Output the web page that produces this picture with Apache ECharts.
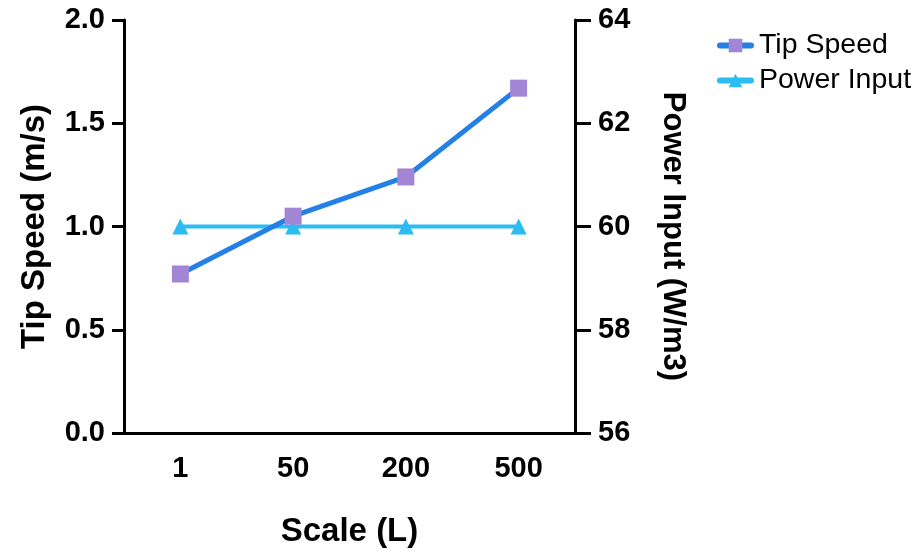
<!DOCTYPE html>
<html><head><meta charset="utf-8">
<script src="https://cdn.jsdelivr.net/npm/echarts@6/dist/echarts.min.js"></script>
<style>html,body{margin:0;padding:0;background:#fff}#c{width:920px;height:553px}</style>
</head><body><div id="c"></div>
<script>
const categories = ['1', '50', '200', '500'];
const tipSpeed = [0.77, 1.05, 1.24, 1.67];
const powerInput = [60, 60, 60, 60];

const FONT = 'Liberation Sans, Arial, sans-serif';
const chart = echarts.init(document.getElementById('c'));
chart.setOption({
  animation: false,
  grid: { left: 124, right: 345, top: 20, bottom: 116 },
  legend: {
    left: 712, top: 26, orient: 'vertical', itemGap: 6, itemWidth: 31, itemHeight: 17,
    lineStyle: { width: 6, cap: 'round' },
    textStyle: { fontFamily: FONT, fontSize: 28.5, color: '#000', padding: [0, 0, 0, 3] },
    data: ['Tip Speed', 'Power Input']
  },
  xAxis: {
    type: 'category', data: categories, boundaryGap: true,
    name: 'Scale (L)', nameLocation: 'middle', nameGap: 82,
    nameTextStyle: { fontFamily: FONT, fontSize: 33, fontWeight: 'bold', color: '#000' },
    axisLine: { lineStyle: { color: '#000', width: 3 } },
    axisTick: { alignWithLabel: true, length: 11, lineStyle: { color: '#000', width: 3 } },
    axisLabel: { margin: 21, fontFamily: FONT, fontSize: 29, fontWeight: 'bold', color: '#000' }
  },
  yAxis: [{
    type: 'value', min: 0, max: 2, interval: 0.5, position: 'left',
    name: 'Tip Speed (m/s)', nameLocation: 'middle', nameGap: 73,
    nameTextStyle: { fontFamily: FONT, fontSize: 33, fontWeight: 'bold', color: '#000' },
    splitLine: { show: false },
    axisLine: { show: true, lineStyle: { color: '#000', width: 3 } },
    axisTick: { show: true, length: 12, lineStyle: { color: '#000', width: 3 } },
    axisLabel: { margin: 19, fontFamily: FONT, fontSize: 29, fontWeight: 'bold', color: '#000',
      formatter: v => v.toFixed(1) }
  }, {
    type: 'value', min: 56, max: 64, interval: 2, position: 'right',
    name: 'Power Input (W/m3)', nameLocation: 'middle', nameGap: 82, nameRotate: -90,
    nameTextStyle: { fontFamily: FONT, fontSize: 31, fontWeight: 'bold', color: '#000', padding: [0, 0, 0, 20] },
    splitLine: { show: false },
    axisLine: { show: true, lineStyle: { color: '#000', width: 3 } },
    axisTick: { show: true, length: 16, lineStyle: { color: '#000', width: 3 } },
    axisLabel: { margin: 23, fontFamily: FONT, fontSize: 29, fontWeight: 'bold', color: '#000' }
  }],
  series: [{
    name: 'Tip Speed', type: 'line', yAxisIndex: 0, data: tipSpeed,
    symbol: 'rect', symbolSize: 17,
    lineStyle: { color: '#2280e6', width: 5 },
    itemStyle: { color: '#a385d6' }, z: 3
  }, {
    name: 'Power Input', type: 'line', yAxisIndex: 1, data: powerInput,
    symbol: 'triangle', symbolSize: 16,
    lineStyle: { color: '#2bbcf2', width: 4 },
    itemStyle: { color: '#2bbcf2' }, z: 2
  }]
});
</script></body></html>
